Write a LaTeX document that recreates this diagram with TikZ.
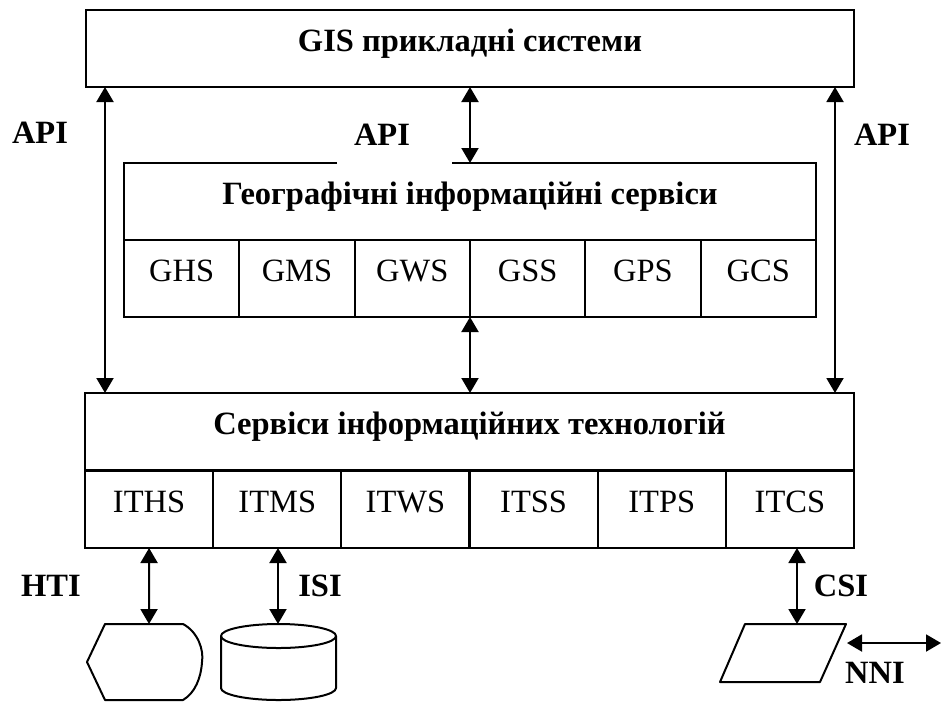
\documentclass[tikz,border=0pt]{standalone}
\usepackage{fontspec}
\setmainfont{Liberation Serif}
\usetikzlibrary{arrows.meta}
\begin{document}
\begin{tikzpicture}[x=1pt,y=-1pt,
  line width=2.2pt,
  row/.style={draw, rectangle, inner sep=0pt, outer sep=0pt,
    text height=41pt, text depth=36pt, font=\fontsize{32.5}{38}\selectfont},
  head/.style={row, font=\fontsize{32.5}{38}\selectfont\bfseries},
  lbl/.style={inner sep=0pt, font=\fontsize{32.5}{38}\selectfont\bfseries},
  link/.style={line width=2pt,
    {Triangle[width=17pt,length=15pt]}-{Triangle[width=17pt,length=15pt]}},
  shp/.style={line width=2pt, line join=round}
]
\useasboundingbox (0,0) rectangle (941,702);

% top level: applications
\node[head, minimum width=768pt, anchor=north west] (gis) at (86,10) {GIS прикладні системи};

% geographic information services
\node[head, draw=none, minimum width=692pt, anchor=north west] (geo) at (124,163)
  {Географічні інформаційні сервіси};
\draw (337,163) -- (geo.north west) -- (geo.south west);
\draw (452,163) -- (geo.north east) -- (geo.south east);
\foreach \t [count=\i] in {GHS,GMS,GWS,GSS,GPS,GCS}
  \node[row, minimum width=115.333pt, anchor=north west] (g\i) at ({124+115.333*(\i-1)},240) {\t};

% information technology services
\node[head, minimum width=769pt, anchor=north west] (it) at (85,393)
  {Сервіси інформаційних технологій};
\foreach \t [count=\i] in {ITHS,ITMS,ITWS,ITSS,ITPS,ITCS}
  \node[row, minimum width=128.167pt, anchor=north west] (i\i) at ({85+128.167*(\i-1)},471) {\t};

% API connectors
\coordinate (xl) at (105,0);
\coordinate (xr) at (835,0);
\draw[link] (gis.south -| xl) -- (it.north -| xl);
\draw[link] (gis.south -| xr) -- (it.north -| xr);
\draw[link] (gis.south) -- (geo.north);
\draw[link] (g3.south east) -- (it.north -| g3.south east);
\node[lbl] (apiL) at (40,133) {API};
\node[lbl] (apiM) at (382,135) {API};
\node[lbl] (apiR) at (882,135) {API};

% peripheral devices
\coordinate (disp) at (149,624);
\coordinate (stor) at (278,624);
\coordinate (comm) at (797,624);
\draw[shp] (87,662) -- (105,624) -- (183,624)
  .. controls (198,632) and (204,650) .. (202,662)
  .. controls (201,678) and (195,693) .. (183,700) -- (105,700) -- cycle;
\draw[shp] (278.5,636) ellipse [x radius=57.5, y radius=12];
\draw[shp] (221,636) -- (221,688) arc [start angle=180, end angle=360, x radius=57.5, y radius=-12] -- (336,636);
\draw[shp] (745,624) -- (846,624) -- (820,682) -- (720,682) -- cycle;

\draw[link] (i1.south) -- (disp);
\draw[link] (i2.south -| stor) -- (stor);
\draw[link] (i6.south -| comm) -- (comm);
\coordinate (nniA) at (847,643);
\coordinate (nniB) at (941,643);
\draw[link] (nniA) -- (nniB);

\node[lbl] (hti) at (51,586) {HTI};
\node[lbl] (isi) at (320,586) {ISI};
\node[lbl] (csi) at (841,586) {CSI};
\node[lbl] (nni) at (875,673) {NNI};
\end{tikzpicture}
\end{document}
